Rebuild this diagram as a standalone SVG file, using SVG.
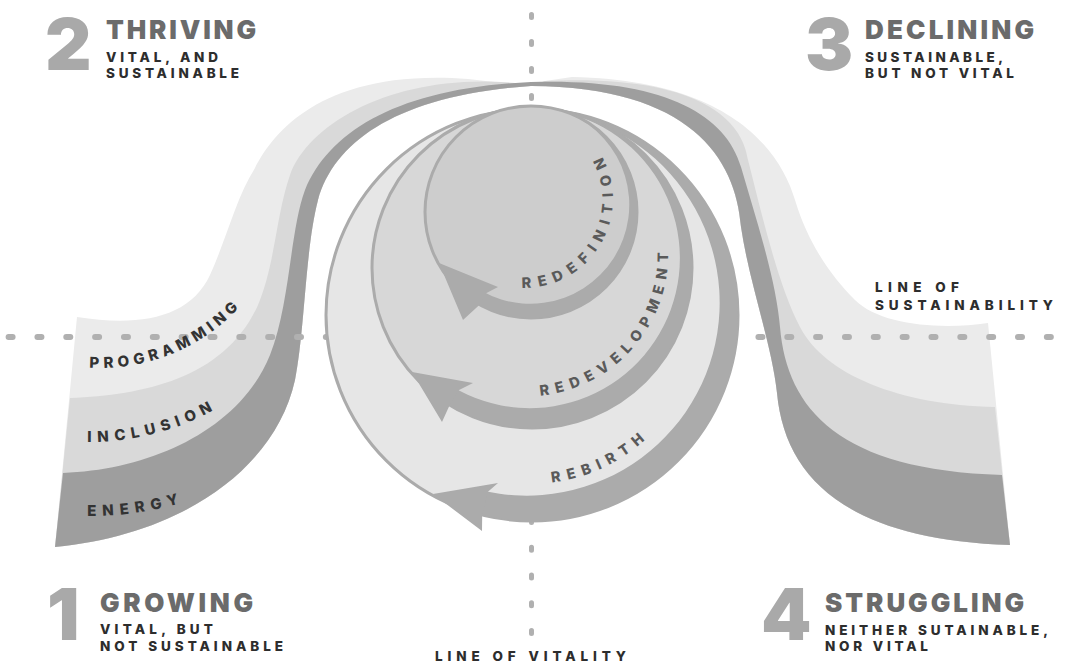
<svg xmlns="http://www.w3.org/2000/svg" width="1068" height="665" viewBox="0 0 1068 665">
<defs>
<style>
.lt{fill:#ebebeb}
.md{fill:#d9d9d9}
.dk{fill:#9e9e9e}
.axis{fill:none;stroke:#b0b0b0;stroke-linecap:round}
.ring{stroke:#ababab;stroke-width:3}
.band{fill:#ababab}
.num{font-family:Inter,"DejaVu Sans",sans-serif;font-weight:900;font-size:72px;fill:#a9a9a9}
.head{font-family:Inter,"DejaVu Sans",sans-serif;font-weight:900;font-size:26px;fill:#6b6b6b}
.sub{font-family:Inter,"DejaVu Sans",sans-serif;font-weight:800;font-size:13.5px;fill:#2d2d2d}
.bl{font-family:Inter,"DejaVu Sans",sans-serif;font-weight:800;font-size:15px;fill:#333333}
.cl{font-family:Inter,"DejaVu Sans",sans-serif;font-weight:800;font-size:14.5px;fill:#5a5a5a}
</style>
<path id="pProg" d="M 89.4,367.7 A 190 190 0 0 0 239,307.6"/>
<path id="pIncl" d="M 87.3,442 A 256 256 0 0 0 213.7,410.1"/>
<path id="pEner" d="M 87.2,516 A 326 326 0 0 0 179.9,503.4"/>
<path id="pRedef" d="M 521.7,288 A 89 89 0 0 0 601.8,155.9"/>
<path id="pRedev" d="M 540.2,395.6 A 141.5 141.5 0 0 0 668.1,251.8"/>
<path id="pReb" d="M 551.7,482.4 A 168.5 168.5 0 0 0 645.6,439.4"/>
</defs>
<rect width="1068" height="665" fill="#ffffff"/>

<g id="ribbon">
<path class="lt" d="M 77,317 C 140,327 190,318 210,275 C 228,235 236,198 255,168 C 272,135 320,68 468,79 L 531,86 C 400,95 335,140 318,200 C 305,250 305,330 295,380 C 275,470 180,535 55,547 Z"/>
<path class="md" d="M 70,398 C 145,395 225,378 258,305 C 275,265 276,215 290,175 C 310,120 400,72 515,83 L 531,86 C 400,95 335,140 318,200 C 305,250 305,330 295,380 C 275,470 180,535 55,547 Z"/>
<path class="dk" d="M 63,473 C 150,470 240,430 270,355 C 290,305 290,230 305,190 C 330,130 400,88 531,82 L 531,86 C 400,95 335,140 318,200 C 305,250 305,330 295,380 C 275,470 180,535 55,547 Z"/>
<path class="lt" d="M 572,77 C 730,80 780,150 795,200 C 808,243 830,275 855,300 C 880,325 940,330 988,323 L 1010,545 C 850,540 785,480 777,393 C 772,345 749,282 741,227 C 736,158 690,87 531,86 L 545,81 Z"/>
<path class="md" d="M 545,81 C 690,74 742,115 748,160 C 762,215 778,285 800,327 C 825,375 900,405 995,407 L 1010,545 C 850,540 785,480 777,393 C 772,345 749,282 741,227 C 736,158 690,87 531,86 Z"/>
<path class="dk" d="M 531,82 C 660,78 725,112 741,167 C 757,222 776,280 780,327 C 787,410 840,470 1002,475 L 1010,545 C 850,540 785,480 777,393 C 772,345 749,282 741,227 C 736,158 690,87 531,86 Z"/>
</g>

<g id="axes">
<line class="axis" x1="8.6" y1="337" x2="1052" y2="337" stroke-width="6" stroke-dasharray="4 24.84"/>
<line class="axis" x1="531.5" y1="14.5" x2="531.5" y2="100" stroke-width="5" stroke-dasharray="3 24"/>
<line class="axis" x1="531.5" y1="519.5" x2="531.5" y2="635" stroke-width="5" stroke-dasharray="3 24.75"/>
</g>

<g id="band-labels">
<text class="bl"><textPath href="#pProg" textLength="166" lengthAdjust="spacing">PROGRAMMING</textPath></text>
<text class="bl"><textPath href="#pIncl" textLength="131" lengthAdjust="spacing">INCLUSION</textPath></text>
<text class="bl"><textPath href="#pEner" textLength="93" lengthAdjust="spacing">ENERGY</textPath></text>
</g>

<g id="rebirth">
<circle class="ring" cx="532" cy="315" r="206" fill="#e6e6e6"/>
<path class="band" d="M 496.2,112.1 A 206 206 0 1 1 471.8,512 L 478.6,489.6 A 193 193 0 1 0 496.2,112.1 Z"/>
<polygon class="band" points="433,494 498,483 487.9,491.8 482.2,514.9 482,531"/>
</g>
<g id="redevelopment">
<circle class="ring" cx="532" cy="268" r="160" fill="#d7d7d7"/>
<path class="band" d="M 518.06,108.6 A 160 160 0 1 1 442.5,400.6 L 452.1,386.4 A 150 150 0 1 0 518.06,108.6 Z"/>
<polygon class="band" points="412,372 473,383 458.6,390.2 449.6,405.2 442,422"/>
</g>
<g id="redefinition">
<circle class="ring" cx="531" cy="212" r="106" fill="#cdcdcd"/>
<path class="band" d="M 549.4,107.6 A 106 106 0 1 1 474.8,301.9 L 481.7,291 A 99 99 0 1 0 549.4,107.6 Z"/>
<polygon class="band" points="439,263 498,287 486,293.3 479.6,304.7 463,320"/>
</g>

<g id="cycle-labels">
<text class="cl"><textPath href="#pRedef" textLength="186" lengthAdjust="spacing">REDEFINITION</textPath></text>
<text class="cl"><textPath href="#pRedev" textLength="211" lengthAdjust="spacing">REDEVELOPMENT</textPath></text>
<text class="cl"><textPath href="#pReb" textLength="104" lengthAdjust="spacing">REBIRTH</textPath></text>
</g>

<g id="q2-thriving">
<text class="num" x="45" y="70">2</text>
<text class="head" x="106" y="39.3" textLength="150" lengthAdjust="spacing">THRIVING</text>
<text class="sub" x="106" y="61.7" textLength="112" lengthAdjust="spacing">VITAL, AND</text>
<text class="sub" x="106" y="78.3" textLength="133" lengthAdjust="spacing">SUSTAINABLE</text>
</g>
<g id="q3-declining">
<text class="num" x="805" y="70">3</text>
<text class="head" x="865" y="39.3" textLength="169" lengthAdjust="spacing">DECLINING</text>
<text class="sub" x="865" y="61.7" textLength="138" lengthAdjust="spacing">SUSTAINABLE,</text>
<text class="sub" x="865" y="78.3" textLength="149" lengthAdjust="spacing">BUT NOT VITAL</text>
</g>
<g id="q1-growing">
<text class="num" x="47" y="640">1</text>
<text class="head" x="100" y="611.7" textLength="153" lengthAdjust="spacing">GROWING</text>
<text class="sub" x="100" y="634" textLength="113" lengthAdjust="spacing">VITAL, BUT</text>
<text class="sub" x="100" y="650.7" textLength="183" lengthAdjust="spacing">NOT SUSTAINABLE</text>
</g>
<g id="q4-struggling">
<text class="num" x="761" y="640">4</text>
<text class="head" x="825" y="611.7" textLength="199" lengthAdjust="spacing">STRUGGLING</text>
<text class="sub" x="825" y="635" textLength="223" lengthAdjust="spacing">NEITHER SUTAINABLE,</text>
<text class="sub" x="825" y="651" textLength="103" lengthAdjust="spacing">NOR VITAL</text>
</g>
<g id="line-labels">
<text class="sub" x="435" y="660.7" textLength="191" lengthAdjust="spacing">LINE OF VITALITY</text>
<text class="sub" x="875" y="291.7" textLength="84" lengthAdjust="spacing">LINE OF</text>
<text class="sub" x="875" y="310" textLength="178" lengthAdjust="spacing">SUSTAINABILITY</text>
</g>
</svg>
